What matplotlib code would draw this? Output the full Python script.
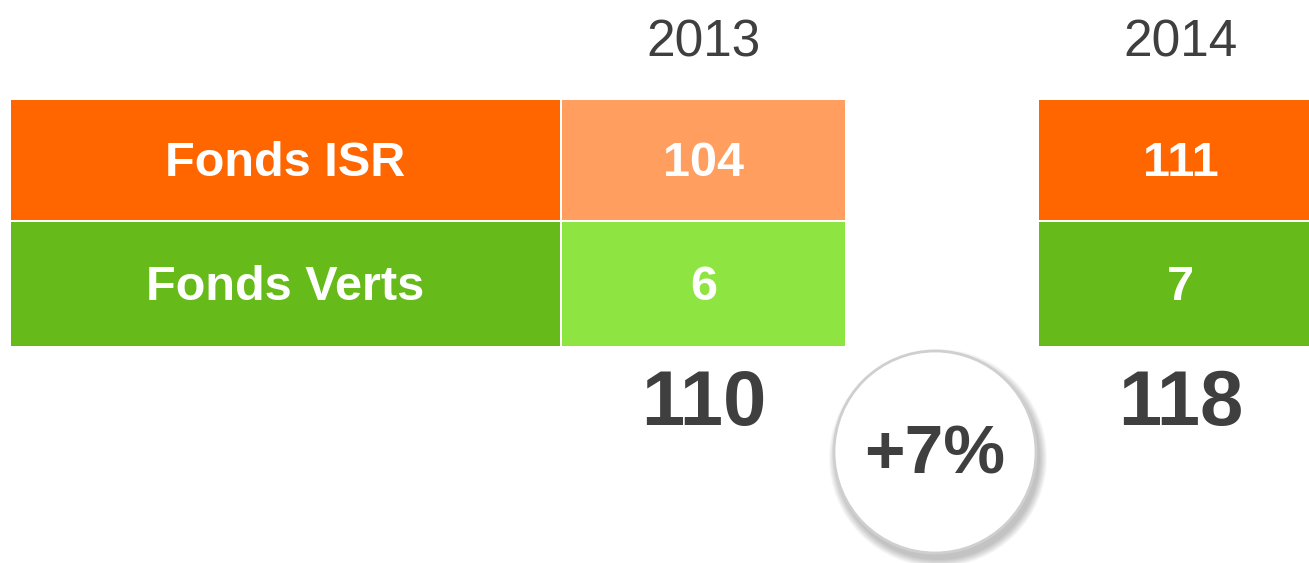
import matplotlib
matplotlib.use("Agg")
import matplotlib.pyplot as plt
from matplotlib.patches import Circle

# data
categories = ['Fonds ISR', 'Fonds Verts']
years = ['2013', '2014']
values_2013 = [104, 6]
values_2014 = [111, 7]

# colours: dark for label column and 2014, light for 2013
dark_colors = ['#FF6600', '#66BB1A']
light_colors = ['#FF9E5E', '#8EE541']
text_dark = '#3F3F3F'

plt.rcParams['font.family'] = ['Liberation Sans', 'DejaVu Sans']

fig = plt.figure(figsize=(13.09, 5.63), dpi=100)
ax = fig.add_axes([0, 0, 1, 1])
ax.set_xlim(0, 1309)
ax.set_ylim(563, 0)
ax.axis('off')

# layout (pixels)
row_top = [100, 222]
row_h = [120, 124]
label_x, label_w = 11, 549
col_x = [562, 1039]
col_w = [283, 290]

# label column
for i, cat in enumerate(categories):
    ax.barh(row_top[i], label_w, height=row_h[i], left=label_x, align='edge',
            color=dark_colors[i], linewidth=0)
    ax.text(label_x + label_w / 2, row_top[i] + row_h[i] / 2 + 3, cat,
            color='white', fontsize=35, fontweight='bold', ha='center', va='center')

# year columns
for j, (yr, vals) in enumerate(zip(years, [values_2013, values_2014])):
    cols = light_colors if j == 0 else dark_colors
    cx = col_x[j] + 283 / 2
    ax.text(cx, 43, yr, color=text_dark, fontsize=37, ha='center', va='center')
    for i, v in enumerate(vals):
        ax.barh(row_top[i], col_w[j], height=row_h[i], left=col_x[j], align='edge',
                color=cols[i], linewidth=0)
        ax.text(cx, row_top[i] + row_h[i] / 2 + 3, str(v), color='white',
                fontsize=35, fontweight='bold', ha='center', va='center')
    ax.text(cx, 405, str(sum(vals)), color=text_dark, fontsize=56,
            fontweight='bold', ha='center', va='center')

# growth bubble
growth = (sum(values_2014) - sum(values_2013)) / sum(values_2013) * 100
bx, by, r = 935, 452, 101
for k in range(8):
    ax.add_patch(Circle((bx + 3, by + 6), r + 8 - k, color='#000000',
                        alpha=0.03, linewidth=0))
ax.add_patch(Circle((bx, by), r, facecolor='white', edgecolor='#CFCFCF', linewidth=2))
ax.text(bx, by + 4, f'+{growth:.0f}%', color=text_dark, fontsize=50,
        fontweight='bold', ha='center', va='center')

fig.savefig('out.png', dpi=100, facecolor='white')
